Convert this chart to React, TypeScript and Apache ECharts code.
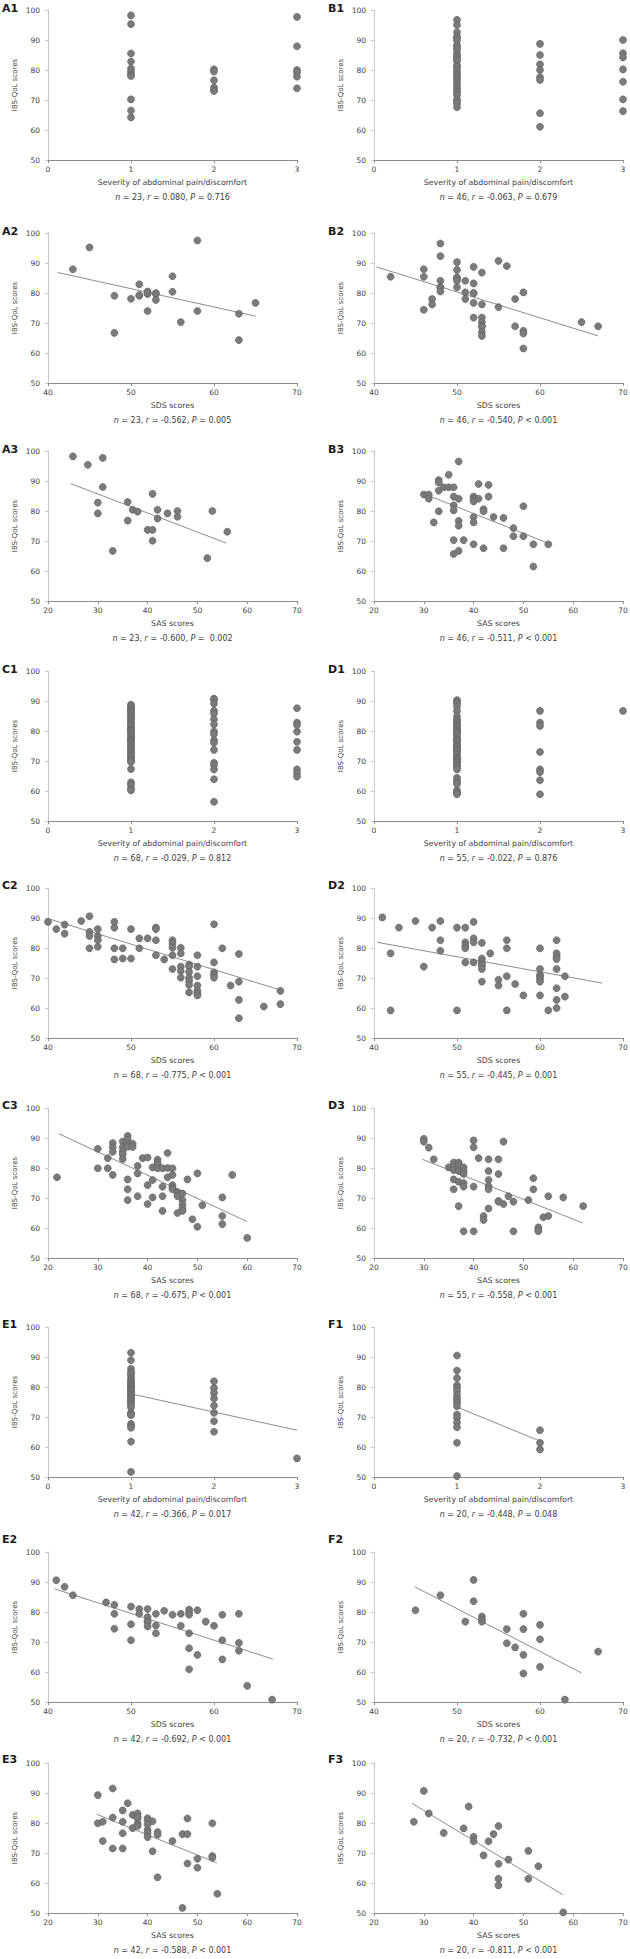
import React, { useEffect, useRef } from "react";
import * as echarts from "echarts";

// ---------- DATA ----------
const Y_MIN = 50;
const Y_MAX = 100;
const SEVERITY_NAME = "Severity of abdominal pain/discomfort";
const SDS_NAME = "SDS scores";
const SAS_NAME = "SAS scores";
const Y_NAME = "IBS-QoL scores";

// A1 (severity groups)
const A1_sev1 = [98.2, 95.3, 85.5, 82.8, 80.5, 79.5, 78.5, 78, 70.2, 66.5, 64.2];
const A1_sev2 = [80.2, 79.5, 76.6, 74.2, 73.2, 73];
const A1_sev3 = [97.7, 87.9, 80, 79.2, 77.8, 73.9];
// B1
const B1_sev1 = [96.7, 95, 92.6, 91.1, 90.5, 89.8, 88.3, 87.5, 86.9, 85.6, 84.9, 84.2, 83.5, 82.8, 81.4, 81, 80, 79, 78.3, 77.5, 76.9, 76, 75, 74, 73.3, 72.5, 71.7, 70.2, 69.5, 68.9, 67.6];
const B1_sev2 = [88.7, 85, 81.9, 80, 77.6, 76.7, 65.6, 61.1];
const B1_sev3 = [90, 85.6, 84.2, 80.2, 76.1, 70.2, 66.3];
// C1
const C1_sev1 = [88.8, 88.3, 87.6, 87, 86.9, 86.4, 85.8, 85.2, 84.6, 84, 83.4, 82.8, 82.3, 81.7, 81.1, 80.5, 80.2, 80, 79.4, 78.8, 78.2, 77.6, 77, 76.8, 76.4, 75.8, 75.3, 74.7, 74.1, 73.5, 73, 72.4, 71.8, 71.2, 70.6, 70.1, 69.7, 67.3, 62.9, 62, 60.8, 60.2];
const C1_sev2 = [90.8, 90.3, 89.1, 86.7, 85.8, 83.9, 82.2, 79.8, 78.9, 76.9, 76.1, 73.7, 69.4, 68.6, 67.2, 63.9, 56.4];
const C1_sev3 = [87.6, 82.8, 82, 79.8, 76.4, 73.7, 67.2, 65.9, 64.8];
// D1
const D1_sev1 = [90.3, 89.6, 89.1, 88.2, 86.7, 84.9, 83.9, 83.3, 82.6, 82.1, 81.7, 81.1, 80.4, 80, 79.7, 79.3, 78.6, 77.8, 77.1, 76.8, 76.4, 75.6, 75.2, 74.8, 74.1, 73.7, 73.3, 72.6, 71.9, 71.1, 70.8, 70.5, 69.9, 69.4, 68.7, 68.3, 67.8, 67.2, 64.4, 63.7, 62.8, 62.3, 60.2, 59.6, 59.2, 58.9];
const D1_sev2 = [86.7, 82.8, 81.7, 73, 67.2, 66.3, 63.6, 58.9];
const D1_sev3 = [86.7];
// E1
const E1_sev1 = [91.4, 88.9, 86.1, 85, 84.5, 83.8, 82.8, 82.2, 81.7, 81.1, 80.6, 80, 79.5, 79.2, 78.9, 78.4, 77.8, 77.3, 76.7, 76.2, 75.6, 75.1, 74.5, 73.9, 73.2, 71.4, 70.9, 70.6, 67.7, 67.1, 66.4, 61.8, 51.7];
const E1_sev2 = [81.9, 79.7, 78, 76.2, 73.8, 71.4, 68.6, 65.1];
const E1_sev3 = [56.2];
// F1
const F1_sev1 = [90.5, 85.5, 83, 80.6, 79.7, 78.6, 77.3, 76.2, 75.5, 74.7, 73.6, 70.8, 69.7, 68.1, 66.6, 61.4, 50.3];
const F1_sev2 = [65.6, 61.4, 59.2];

// SDS / SAS panels: [score, IBS-QoL]
const A2: number[][] = [[43, 87.9], [45, 95.2], [48, 79.1], [48, 66.7], [50, 78.1], [51, 82.9], [51, 79.1], [51, 79.3], [52, 80.5], [52, 79.7], [52, 80], [52, 74], [53, 80], [53, 79.6], [53, 77.7], [55, 85.6], [55, 80.4], [56, 70.3], [58, 97.5], [58, 74], [63, 73.1], [63, 64.3], [65, 76.7]];
const B2: number[][] = [[42, 85.4], [46, 87.9], [46, 85.4], [46, 74.4], [47, 78], [47, 76.2], [48, 96.5], [48, 92.3], [48, 84.1], [48, 82], [48, 81.9], [48, 80.5], [50, 90.3], [50, 87.7], [50, 85.2], [50, 85], [50, 84.1], [50, 81.9], [51, 84.1], [51, 80.2], [51, 78], [52, 88.7], [52, 83.2], [52, 80], [52, 79.9], [52, 76.7], [52, 71.8], [53, 86.8], [53, 76.2], [53, 71.8], [53, 70.3], [53, 69], [53, 68.7], [53, 67], [53, 65.7], [55, 90.7], [55, 75.3], [56, 89], [57, 78], [57, 68.9], [58, 80.2], [58, 67.4], [58, 66.5], [58, 61.5], [65, 70.3], [67, 68.9]];
const A3: number[][] = [[25, 98.2], [28, 95.4], [31, 97.7], [31, 88], [30, 82.8], [30, 79.2], [33, 66.7], [36, 83], [36, 76.8], [37, 80.4], [38, 79.8], [40, 73.7], [41, 85.7], [41, 73.7], [41, 70.1], [42, 80.4], [42, 77.5], [44, 79.2], [46, 80], [46, 78.1], [52, 64.3], [53, 80], [56, 73.1]];
const B3: number[][] = [[30, 85.5], [31, 85.5], [31, 84.1], [32, 76.2], [33, 90.3], [33, 89.5], [33, 86.8], [33, 79.9], [34, 87.9], [35, 92.1], [35, 87.9], [36, 87.9], [36, 84.8], [36, 81.9], [36, 80.2], [36, 70.3], [36, 65.7], [37, 96.5], [37, 84.1], [37, 76.7], [37, 75.1], [37, 66.7], [38, 70.3], [40, 84.8], [40, 84], [40, 83.2], [40, 78], [40, 76.2], [40, 68.9], [41, 89], [41, 84.1], [42, 80.6], [42, 79.9], [42, 67.6], [43, 88.7], [43, 84.8], [44, 78], [46, 77.7], [46, 67.6], [48, 74.3], [48, 71.6], [50, 81.6], [50, 71.6], [52, 68.9], [52, 61.5], [55, 68.9]];
const C2: number[][] = [[40, 88.7], [41, 86.3], [42, 87.8], [42, 84.8], [44, 89], [45, 90.6], [45, 85.4], [45, 84], [45, 79.9], [46, 86.3], [46, 84], [46, 82.6], [46, 80.4], [48, 88.7], [48, 86.8], [48, 79.9], [48, 76.2], [49, 79.9], [49, 76.5], [50, 86.3], [50, 76.5], [51, 83.2], [51, 79.9], [52, 83.2], [53, 86.8], [53, 86.3], [53, 82.6], [53, 77.6], [54, 76.2], [55, 82.6], [55, 81.5], [55, 80.1], [55, 77.6], [55, 73], [56, 80.1], [56, 78.2], [56, 73.8], [56, 72.3], [56, 70.1], [57, 74.5], [57, 73.8], [57, 72], [57, 70.1], [57, 69], [57, 67.7], [57, 65.2], [58, 77.6], [58, 73.8], [58, 70.6], [58, 67.5], [58, 65.8], [58, 64.9], [58, 64.2], [60, 87.9], [60, 75.2], [60, 71.9], [60, 71], [60, 70.1], [61, 79.9], [62, 67.5], [63, 78], [63, 68.8], [63, 62.7], [63, 56.6], [66, 60.5], [68, 65.7], [68, 61.3]];
const D2: number[][] = [[41, 90.2], [42, 78.2], [42, 59.2], [43, 86.8], [45, 89], [46, 73.8], [47, 86.8], [48, 89], [48, 82.6], [48, 79.1], [50, 86.8], [50, 59.2], [51, 86.8], [51, 81.9], [51, 80.8], [51, 79.9], [51, 75.2], [52, 88.7], [52, 83.2], [52, 81.9], [52, 75.2], [53, 81.7], [53, 76.5], [53, 75.4], [53, 74.5], [53, 74.1], [53, 73], [53, 68.8], [54, 78.2], [55, 69.4], [55, 67.5], [56, 82.6], [56, 79.9], [56, 70.6], [56, 59.2], [57, 68], [58, 64.2], [60, 79.9], [60, 73], [60, 71], [60, 70.5], [60, 69.7], [60, 68.8], [60, 64.2], [61, 59.2], [62, 82.6], [62, 78.2], [62, 77.1], [62, 76.3], [62, 73], [62, 66.6], [62, 62.7], [62, 60], [63, 70.6], [63, 63.8]];
const C3: number[][] = [[21.8, 76.9], [30, 86.4], [30, 79.9], [32, 83.3], [32, 79.9], [33, 88.3], [33, 86.9], [33, 85.4], [33, 77.7], [35, 88.8], [35, 86.9], [35, 85.5], [35, 84.6], [35, 83], [36, 90.7], [36, 89.4], [36, 88], [36, 87.1], [36, 76.2], [36, 72.9], [36, 69.3], [37, 88.1], [37, 87], [38, 80.7], [38, 78.2], [38, 70.6], [39, 83.3], [40, 83.5], [40, 74.3], [40, 68], [41, 80.2], [41, 76], [41, 70.2], [42, 82.8], [42, 81.7], [42, 81], [42, 79.9], [43, 79.9], [43, 73.8], [43, 70.6], [43, 65.7], [44, 85], [44, 80], [44, 76.9], [45, 79.9], [45, 77.7], [45, 74.3], [45, 73.5], [45, 72.9], [46, 72], [46, 71.5], [46, 70.6], [46, 65], [47, 71.5], [47, 69.3], [47, 67.8], [47, 66.5], [47, 65.7], [48, 76.2], [49, 62.9], [50, 78.2], [50, 60.4], [51, 67.6], [55, 70.2], [55, 64], [55, 61.3], [57, 77.7], [60, 56.7]];
const D3: number[][] = [[30, 89.7], [30, 88.8], [31, 86.8], [32, 82.9], [35, 80.2], [36, 81.8], [36, 80.5], [36, 79.3], [36, 76.2], [36, 72.9], [37, 81.8], [37, 81], [37, 80.2], [37, 79], [37, 75.4], [37, 67.3], [38, 80.2], [38, 79], [38, 78], [38, 75], [38, 73.8], [38, 58.9], [40, 89.2], [40, 86.9], [40, 73.8], [40, 58.9], [41, 83.3], [42, 64], [42, 62.7], [43, 82.9], [43, 79], [43, 76], [43, 74], [43, 72.9], [43, 66.5], [45, 82.9], [45, 78], [45, 69], [45, 68.8], [46, 88.8], [46, 68], [47, 70.6], [48, 68.8], [48, 58.9], [51, 69.3], [52, 76.6], [52, 72.9], [53, 60.2], [53, 59.5], [53, 58.9], [54, 63.6], [55, 64], [55, 70.6], [58, 70.2], [62, 67.3]];
const E2: number[][] = [[41, 90.6], [42, 88.4], [43, 85.6], [47, 83.2], [48, 82.4], [48, 79.4], [48, 74.4], [50, 81.8], [50, 75.9], [50, 70.6], [51, 81], [51, 79.4], [52, 81], [52, 78.3], [52, 77], [52, 76.5], [52, 75.2], [53, 79.4], [53, 75.5], [53, 72.9], [54, 80.4], [55, 79.1], [56, 79.4], [56, 75.4], [57, 80.8], [57, 80], [57, 79.1], [57, 72.9], [57, 67.9], [57, 60.9], [58, 80.6], [58, 65.7], [59, 76.8], [60, 75.4], [61, 79.1], [61, 70.6], [61, 64.2], [63, 79.4], [63, 69.7], [63, 67.1], [64, 55.4], [67, 50.8]];
const F2: number[][] = [[45, 80.6], [48, 85.6], [51, 76.8], [52, 90.7], [52, 83.6], [53, 78.5], [53, 77.5], [53, 76.8], [56, 74.3], [56, 69.6], [57, 68.2], [58, 79.4], [58, 74.3], [58, 65.7], [58, 59.5], [60, 75.7], [60, 70.9], [60, 61.7], [63, 50.8], [67, 66.8]];
const E3: number[][] = [[30, 89.3], [30, 79.9], [31, 80.4], [31, 74], [33, 91.5], [33, 81.8], [33, 71.5], [35, 84.2], [35, 80.4], [35, 76.6], [35, 71.5], [36, 86.6], [37, 82.7], [37, 78.3], [38, 83.2], [38, 81.6], [38, 79.9], [38, 79], [40, 81.6], [40, 80.8], [40, 77.7], [40, 76.6], [40, 75.3], [41, 80.6], [41, 70.6], [42, 77], [42, 76.1], [42, 61.9], [45, 74], [47, 76.3], [47, 51.7], [48, 76.3], [48, 81.5], [48, 66.5], [50, 68.1], [50, 65.1], [53, 79.9], [53, 69], [53, 68.4], [54, 56.4], [38, 82], [40, 79.5]];
const F3: number[][] = [[28, 80.4], [30, 90.7], [31, 83.2], [34, 76.7], [38, 78.2], [39, 85.5], [40, 75.4], [40, 73.9], [42, 69.2], [43, 73.9], [44, 76.3], [45, 79], [45, 66.4], [45, 61.4], [45, 59.2], [47, 67.8], [51, 70.7], [51, 61.4], [53, 65.6], [58, 50.2]];

// Fitted lines: [x, y] end points
const E1_trend = [[1, 77.7], [3, 65.6]];
const F1_trend = [[1, 73.3], [2, 62]];
const A2_trend = [[41.2, 86.8], [65, 72.3]];
const B2_trend = [[40.3, 88.7], [67, 65.7]];
const A3_trend = [[24.6, 89.1], [55.8, 69.3]];
const B3_trend = [[29.5, 86.1], [54.9, 69.3]];
const C2_trend = [[40, 89.8], [68, 66]];
const D2_trend = [[40.4, 81.9], [67.5, 68.3]];
const C3_trend = [[22.2, 91.4], [60, 62.1]];
const D3_trend = [[29.7, 82.9], [61.9, 61.7]];
const E2_trend = [[40.8, 87.7], [67.1, 64.3]];
const F2_trend = [[44.9, 88.4], [65, 59.7]];
const E3_trend = [[29.8, 82.9], [53.9, 66.7]];
const F3_trend = [[27.7, 86.5], [57.9, 56.1]];

// Statistics: [panel, n, r, P-part]
const STATS: string[][] = [
  ["A1", "23", "0.080", "= 0.716"], ["B1", "46", "-0.063", "= 0.679"],
  ["A2", "23", "-0.562", "= 0.005"], ["B2", "46", "-0.540", "< 0.001"],
  ["A3", "23", "-0.600", "=  0.002"], ["B3", "46", "-0.511", "< 0.001"],
  ["C1", "68", "-0.029", "= 0.812"], ["D1", "55", "-0.022", "= 0.876"],
  ["C2", "68", "-0.775", "< 0.001"], ["D2", "55", "-0.445", "= 0.001"],
  ["C3", "68", "-0.675", "< 0.001"], ["D3", "55", "-0.558", "< 0.001"],
  ["E1", "42", "-0.366", "= 0.017"], ["F1", "20", "-0.448", "= 0.048"],
  ["E2", "42", "-0.692", "< 0.001"], ["F2", "20", "-0.732", "< 0.001"],
  ["E3", "42", "-0.588", "< 0.001"], ["F3", "20", "-0.811", "< 0.001"],
];

const sev = (x: number, ys: number[]) => ys.map((y) => [x, y]);

type Panel = { data: number[][]; trend: number[][] | null; kind: "sev" | "sds" | "sas" };
const PANELS: Panel[] = [
  { data: [...sev(1, A1_sev1), ...sev(2, A1_sev2), ...sev(3, A1_sev3)], trend: null, kind: "sev" },
  { data: [...sev(1, B1_sev1), ...sev(2, B1_sev2), ...sev(3, B1_sev3)], trend: null, kind: "sev" },
  { data: A2, trend: A2_trend, kind: "sds" },
  { data: B2, trend: B2_trend, kind: "sds" },
  { data: A3, trend: A3_trend, kind: "sas" },
  { data: B3, trend: B3_trend, kind: "sas" },
  { data: [...sev(1, C1_sev1), ...sev(2, C1_sev2), ...sev(3, C1_sev3)], trend: null, kind: "sev" },
  { data: [...sev(1, D1_sev1), ...sev(2, D1_sev2), ...sev(3, D1_sev3)], trend: null, kind: "sev" },
  { data: C2, trend: C2_trend, kind: "sds" },
  { data: D2, trend: D2_trend, kind: "sds" },
  { data: C3, trend: C3_trend, kind: "sas" },
  { data: D3, trend: D3_trend, kind: "sas" },
  { data: [...sev(1, E1_sev1), ...sev(2, E1_sev2), ...sev(3, E1_sev3)], trend: E1_trend, kind: "sev" },
  { data: [...sev(1, F1_sev1), ...sev(2, F1_sev2)], trend: F1_trend, kind: "sev" },
  { data: E2, trend: E2_trend, kind: "sds" },
  { data: F2, trend: F2_trend, kind: "sds" },
  { data: E3, trend: E3_trend, kind: "sas" },
  { data: F3, trend: F3_trend, kind: "sas" },
];

// ---------- LAYOUT ----------
const W = 630;
const H = 1959;
const COL_LEFT = [48, 374];
const GRID_W = 249;
const GRID_H = 150;
const ROW_TOP = [10, 233, 451, 671, 888, 1108, 1327, 1552, 1763];
const LABEL_Y = [10, 233, 451, 671, 887, 1107, 1326, 1541, 1761];
const LABEL_X = [2, 328];
const FONT = "DejaVu Sans";
const TEXT = "#404040";
const DOT = "#7b7b7b";

function buildOption() {
  const grid: any[] = [];
  const xAxis: any[] = [];
  const yAxis: any[] = [];
  const series: any[] = [];
  const graphic: any[] = [];

  PANELS.forEach((p, i) => {
    const row = Math.floor(i / 2);
    const col = i % 2;
    const left = COL_LEFT[col];
    const top = ROW_TOP[row];
    grid.push({ left, top, width: GRID_W, height: GRID_H, containLabel: false, outerBoundsMode: "none" });

    const range = p.kind === "sev" ? [0, 3, 1] : p.kind === "sds" ? [40, 70, 10] : [20, 70, 10];
    xAxis.push({
      type: "value",
      gridIndex: i,
      min: range[0],
      max: range[1],
      interval: range[2],
      name: p.kind === "sev" ? SEVERITY_NAME : p.kind === "sds" ? SDS_NAME : SAS_NAME,
      nameLocation: "middle",
      nameGap: 18,
      nameTextStyle: { fontFamily: FONT, fontSize: 7.8, color: TEXT },
      axisLine: { show: true, onZero: false, lineStyle: { color: "#8c8c8c", width: 1 } },
      axisTick: { show: true, length: 3, lineStyle: { color: "#8c8c8c" } },
      axisLabel: { fontFamily: FONT, fontSize: 7.5, color: TEXT, margin: 5 },
      splitLine: { show: false },
    });
    yAxis.push({
      type: "value",
      gridIndex: i,
      min: Y_MIN,
      max: Y_MAX,
      interval: 10,
      name: Y_NAME,
      nameLocation: "middle",
      nameGap: 30,
      nameTextStyle: { fontFamily: FONT, fontSize: 7, color: TEXT },
      axisLine: { show: true, lineStyle: { color: "#c8c8c8", width: 1 } },
      axisTick: { show: true, length: 3, lineStyle: { color: "#c8c8c8" } },
      axisLabel: { fontFamily: FONT, fontSize: 7.5, color: TEXT, margin: 8 },
      splitLine: { show: false },
    });
    series.push({
      type: "scatter",
      xAxisIndex: i,
      yAxisIndex: i,
      data: p.data,
      symbolSize: 7,
      itemStyle: { color: DOT, borderColor: "#5e5e5e", borderWidth: 0.6, opacity: 1 },
      silent: true,
      z: 2,
    });
    if (p.trend) {
      series.push({
        type: "line",
        xAxisIndex: i,
        yAxisIndex: i,
        data: p.trend,
        showSymbol: false,
        symbol: "none",
        lineStyle: { color: "#6f6f6f", width: 0.8 },
        silent: true,
        z: 3,
      });
    }

    const st = STATS[i];
    graphic.push({
      type: "text",
      left: LABEL_X[col],
      top: LABEL_Y[row] - 7,
      style: { text: st[0], font: `bold 11px '${FONT}'`, fill: "#1a1a1a" },
    });
    graphic.push({
      type: "text",
      x: left + GRID_W / 2,
      y: top + GRID_H + 37,
      style: {
        text: `{i|n} = ${st[1]}, {i|r} = ${st[2]}, {i|P} ${st[3]}`,
        textAlign: "center",
        textVerticalAlign: "middle",
        fill: TEXT,
        font: `8px '${FONT}'`,
        rich: {
          i: { fontStyle: "italic", fontFamily: FONT, fontSize: 8, fill: TEXT },
        },
      },
    });
  });

  return { animation: false, backgroundColor: "#ffffff", grid, xAxis, yAxis, series, graphic };
}

export default function App() {
  const ref = useRef<HTMLDivElement>(null);
  useEffect(() => {
    if (!ref.current) return;
    const chart = echarts.init(ref.current, null, { renderer: "svg" });
    chart.setOption(buildOption() as any);
    return () => chart.dispose();
  }, []);
  return (
    <div
      ref={ref}
      style={{ position: "absolute", left: 0, top: 0, width: W, height: H, background: "#fff" }}
    />
  );
}
